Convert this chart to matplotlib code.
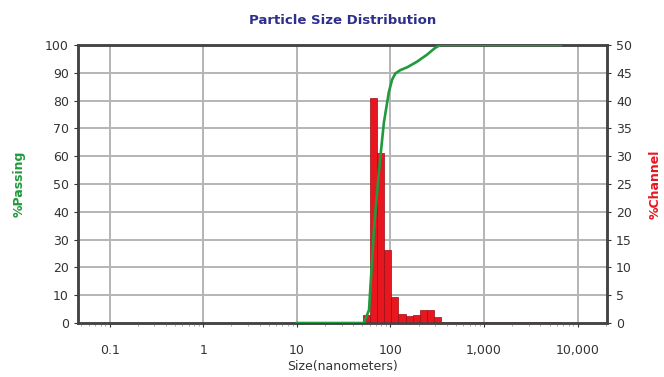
import numpy as np
import matplotlib
matplotlib.use("Agg")
import matplotlib.pyplot as plt
from matplotlib.ticker import FixedLocator, FixedFormatter, LogLocator, NullFormatter

# ---------------------------------
# Data
# ---------------------------------
# cumulative %passing curve (green)
passing_size = [10, 52, 59, 66.6, 75, 85, 96, 104, 113, 128, 151, 192, 245, 301, 340, 6600]
passing_pct = [0, 0, 4.7, 33.5, 54, 72, 83, 87.5, 89.8, 91, 92, 94, 96.5, 99, 100, 100]

# %channel histogram (red), bin edges in nm
channel_edges = [51.2, 60.9, 72.4, 86.1, 102.4, 121.8, 144.8, 172.2, 204.8,
                 243.5, 289.6, 344.4]
channel_pct = [1.4, 40.4, 30.5, 13.1, 4.7, 1.7, 1.3, 1.4, 2.3, 2.3, 1.0]
channel_range = [10, 6600]   # measured size range, channel sits at 0 outside bars

x_ticks = [0.1, 1, 10, 100, 1000, 10000]
x_labels = ["0.1", "1", "10", "100", "1,000", "10,000"]
left_ticks = list(range(0, 101, 10))
right_ticks = list(range(0, 51, 5))

GREEN = "#1f9a3c"
RED = "#e8161e"
GRID = "#b4b4b4"
TEXT = "#333333"

fig = plt.figure(figsize=(6.64, 3.77), dpi=100)
ax = fig.add_axes([0.1175, 0.1432, 0.7965, 0.7374])
ax.set_xscale("log")
ax2 = ax.twinx()

# grid drawn on the background axis so it sits under the bars
for xv in x_ticks:
    ax2.axvline(xv, color=GRID, lw=1.4, zorder=0)
for yv in right_ticks[1:-1]:
    ax2.axhline(yv, color=GRID, lw=1.4, zorder=0)

# histogram bars on the right axis
left = np.array(channel_edges[:-1])
widths = np.diff(channel_edges)
ax2.hlines(0, channel_range[0], channel_range[1], color=RED, lw=2, zorder=2)
ax2.bar(left, channel_pct, width=widths, align="edge", color=RED,
        edgecolor="#9b0d12", linewidth=0.5, zorder=3)

# passing curve on top
ax.plot(passing_size, passing_pct, color=GREEN, lw=1.9, zorder=5)
ax.set_zorder(ax2.get_zorder() + 1)
ax.patch.set_visible(False)

ax.set_xlim(0.046, 20500)
ax.set_ylim(0, 100)
ax2.set_ylim(0, 50)

ax.xaxis.set_major_locator(FixedLocator(x_ticks))
ax.xaxis.set_major_formatter(FixedFormatter(x_labels))
ax.xaxis.set_minor_locator(LogLocator(base=10, subs=np.arange(2, 10)))
ax.xaxis.set_minor_formatter(NullFormatter())
ax.set_yticks(left_ticks)
ax2.set_yticks(right_ticks)

for a in (ax, ax2):
    for s in a.spines.values():
        s.set_color("#444444")
        s.set_linewidth(1.8)
    a.tick_params(colors=TEXT, labelsize=9, length=3, width=0.8)
ax.tick_params(axis="x", which="minor", length=2, color="#999999")
ax.tick_params(axis="x", pad=12)

ax.set_title("Particle Size Distribution", fontsize=9.5, fontweight="bold",
             color="#2e2e8c", pad=15)
ax.set_xlabel("Size(nanometers)", fontsize=9, color=TEXT, labelpad=2)
ax.set_ylabel("%Passing", fontsize=9, fontweight="bold", color=GREEN, labelpad=14)
ax2.set_ylabel("%Channel", fontsize=9, fontweight="bold", color=RED,
               rotation=90, labelpad=12)

fig.savefig("out.png", dpi=100)
